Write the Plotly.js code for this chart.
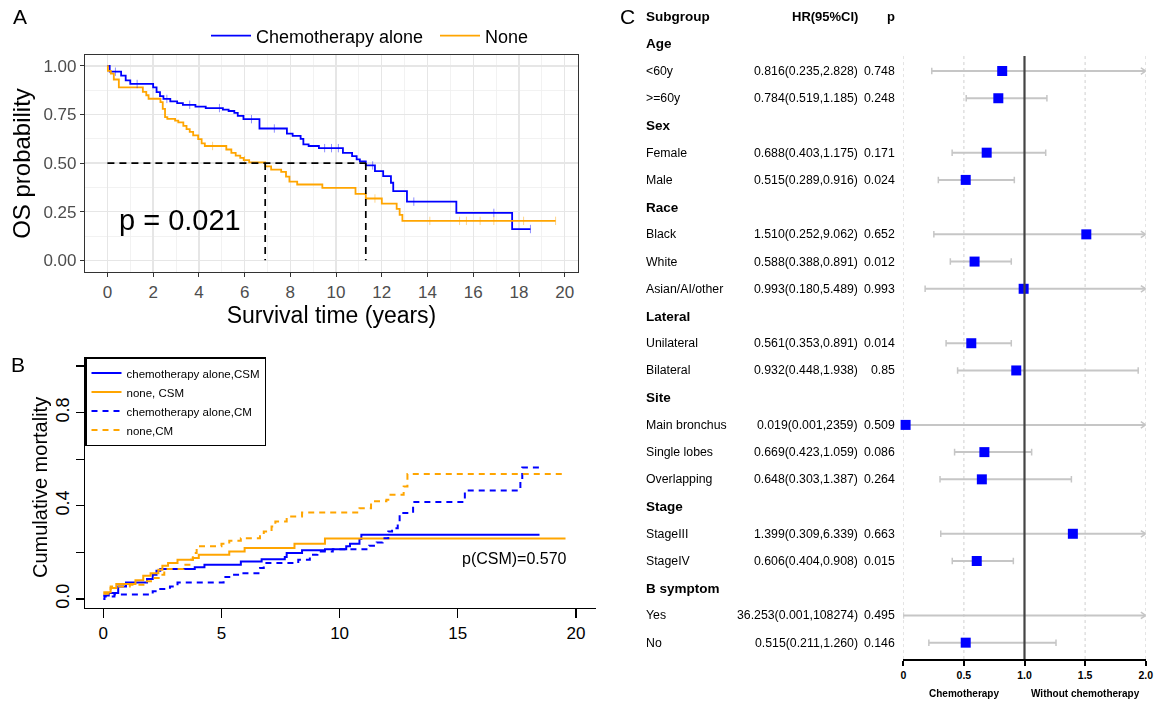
<!DOCTYPE html>
<html><head><meta charset="utf-8">
<script src="https://cdn.plot.ly/plotly-3.0.1.min.js"></script>
<style>html,body{margin:0;padding:0;background:#fff;}#chart{width:1158px;height:702px;}</style>
</head><body><div id="chart"></div>
<script>
// ---------- Panel A: Kaplan-Meier OS ----------
const chemoTime = [0, 0.1, 0.6, 0.8, 1.0, 2.0, 2.15, 2.3, 2.45, 2.75, 3.05, 3.3, 3.85, 4.3, 5.05, 5.3, 5.55, 5.7, 5.95, 6.65, 7.85, 8.1, 8.45, 8.57, 8.8, 9.25, 10.3, 10.7, 10.9, 11.04, 11.3, 11.7, 12.06, 12.4, 12.5, 13.1, 15.26, 17.7, 18.5];
const chemoSurv = [1.0, 0.97, 0.95, 0.925, 0.907, 0.89, 0.865, 0.845, 0.83, 0.818, 0.808, 0.8, 0.79, 0.783, 0.775, 0.768, 0.758, 0.743, 0.726, 0.678, 0.652, 0.64, 0.625, 0.596, 0.588, 0.577, 0.553, 0.536, 0.519, 0.509, 0.488, 0.459, 0.433, 0.399, 0.356, 0.302, 0.244, 0.161, 0.161];
const noneTime = [0, 0.02, 0.15, 0.28, 0.5, 1.55, 1.7, 1.8, 2.32, 2.42, 2.52, 2.62, 2.96, 3.1, 3.32, 3.46, 3.6, 3.75, 3.97, 4.12, 4.26, 5.2, 5.42, 5.61, 5.81, 5.96, 6.2, 6.9, 7.16, 7.6, 7.81, 7.96, 8.3, 9.4, 10.85, 11.3, 12.0, 12.65, 12.78, 12.9, 19.6];
const noneSurv = [1.0, 0.974, 0.96, 0.93, 0.89, 0.866, 0.849, 0.831, 0.814, 0.779, 0.736, 0.727, 0.718, 0.71, 0.692, 0.675, 0.661, 0.643, 0.623, 0.602, 0.588, 0.57, 0.553, 0.539, 0.527, 0.515, 0.504, 0.483, 0.466, 0.455, 0.43, 0.405, 0.39, 0.373, 0.342, 0.318, 0.292, 0.265, 0.234, 0.203, 0.203];
const chemoCensor = [0.35, 1.3, 2.6, 3.6, 4.9, 6.3, 7.3, 9.5, 9.8, 10.1, 11.6, 13.4, 16.9, 18.5];
const noneCensor = [4.6, 6.0, 11.7, 14.1, 15.4, 15.7, 16.3, 16.9, 18.2, 19.6];
const medianTimes = [6.9, 11.3];
const groupNames = ['Chemotherapy alone', 'None'];

// ---------- Panel B: cumulative mortality ----------
const chemoCSM_t = [0, 0.23, 0.63, 0.96, 1.85, 2.09, 2.25, 2.41, 3.87, 4.28, 5.82, 6.7, 7.68, 7.76, 8.41, 9.38, 10.28, 10.44, 10.84, 10.92, 18.46];
const chemoCSM_v = [0.015, 0.026, 0.054, 0.071, 0.086, 0.104, 0.121, 0.129, 0.136, 0.147, 0.161, 0.171, 0.18, 0.197, 0.209, 0.214, 0.226, 0.237, 0.257, 0.276, 0.276];
const noneCSM_t = [0, 0.31, 0.55, 1.36, 1.69, 2.0, 2.33, 2.5, 2.74, 3.14, 3.79, 4.04, 5.33, 5.98, 8.09, 9.38, 19.56];
const noneCSM_v = [0.029, 0.047, 0.064, 0.08, 0.1, 0.111, 0.126, 0.143, 0.154, 0.169, 0.176, 0.19, 0.204, 0.219, 0.237, 0.26, 0.26];
const chemoCM_t = [0, 0.05, 0.47, 2.09, 2.41, 2.82, 3.14, 5.09, 5.33, 5.82, 6.63, 6.79, 8.25, 8.74, 9.06, 9.71, 11.25, 11.57, 11.82, 12.06, 12.22, 12.46, 12.54, 13.11, 15.3, 17.65, 17.73, 18.46];
const chemoCM_v = [0.0, 0.011, 0.019, 0.033, 0.043, 0.054, 0.071, 0.094, 0.104, 0.111, 0.133, 0.154, 0.169, 0.19, 0.204, 0.214, 0.229, 0.243, 0.261, 0.29, 0.304, 0.333, 0.369, 0.416, 0.466, 0.511, 0.564, 0.564];
const noneCM_t = [0, 0.31, 1.12, 1.77, 2.1, 2.41, 2.58, 3.39, 3.71, 3.79, 3.95, 5.0, 5.33, 5.82, 6.63, 6.79, 7.12, 7.28, 7.76, 8.41, 10.84, 11.33, 11.98, 12.06, 12.71, 12.87, 19.56];
const noneCM_v = [0.023, 0.054, 0.061, 0.076, 0.09, 0.104, 0.129, 0.147, 0.169, 0.197, 0.226, 0.237, 0.25, 0.261, 0.269, 0.29, 0.311, 0.333, 0.354, 0.371, 0.39, 0.419, 0.426, 0.447, 0.483, 0.536, 0.536];
const seriesB = ['chemotherapy alone,CSM', 'none, CSM', 'chemotherapy alone,CM', 'none,CM'];

// ---------- Panel C: forest plot ----------
const rowLabels = ['Age','<60y','>=60y','Sex','Female','Male','Race','Black','White','Asian/AI/other','Lateral','Unilateral','Bilateral','Site','Main bronchus','Single lobes','Overlapping','Stage','StageIII','StageIV','B symptom','Yes','No'];
const hr  = [null,0.816,0.784,null,0.688,0.515,null,1.510,0.588,0.993,null,0.561,0.932,null,0.019,0.669,0.648,null,1.399,0.606,null,36.253,0.515];
const ciLo = [null,0.235,0.519,null,0.403,0.289,null,0.252,0.388,0.180,null,0.353,0.448,null,0.001,0.423,0.303,null,0.309,0.404,null,0.001,0.211];
const ciHi = [null,2.828,1.185,null,1.175,0.916,null,9.062,0.891,5.489,null,0.891,1.938,null,2359,1.059,1.387,null,6.339,0.908,null,108274,1.260];
const hrText = ['','0.816(0.235,2.828)','0.784(0.519,1.185)','','0.688(0.403,1.175)','0.515(0.289,0.916)','','1.510(0.252,9.062)','0.588(0.388,0.891)','0.993(0.180,5.489)','','0.561(0.353,0.891)','0.932(0.448,1.938)','','0.019(0.001,2359)','0.669(0.423,1.059)','0.648(0.303,1.387)','','1.399(0.309,6.339)','0.606(0.404,0.908)','','36.253(0.001,108274)','0.515(0.211,1.260)'];
const pText = ['','0.748','0.248','','0.171','0.024','','0.652','0.012','0.993','','0.014','0.85','','0.509','0.086','0.264','','0.663','0.015','','0.495','0.146'];
const forestTicks = [0, 0.5, 1.0, 1.5, 2.0];
const forestTickText = ['0', '0.5', '1.0', '1.5', '2.0'];
const headers = ['Subgroup', 'HR(95%CI)', 'p'];
const favourLabels = ['Chemotherapy', 'Without chemotherapy'];

// ---------- helpers ----------
const W = 1158, H = 702;
const px = v => v / W;
const py = v => 1 - v / H;
const BLUE = '#0000FF', ORANGE = '#FFA500';
const SANS = 'Liberation Sans, Arial, sans-serif';
const NARROW = 'Liberation Sans Narrow, Arial Narrow, Liberation Sans, sans-serif';
function stepAt(ts, vs, t) { let v = vs[0]; for (let i = 0; i < ts.length; i++) { if (ts[i] <= t) v = vs[i]; } return v; }

const traces = [];
// Panel A
traces.push({x: chemoTime, y: chemoSurv, type: 'scatter', mode: 'lines', line: {color: BLUE, width: 1.8, shape: 'hv'}, name: groupNames[0], xaxis: 'x', yaxis: 'y', legend: 'legend'});
traces.push({x: noneTime, y: noneSurv, type: 'scatter', mode: 'lines', line: {color: ORANGE, width: 1.8, shape: 'hv'}, name: groupNames[1], xaxis: 'x', yaxis: 'y', legend: 'legend'});
traces.push({x: chemoCensor, y: chemoCensor.map(t => stepAt(chemoTime, chemoSurv, t)), type: 'scatter', mode: 'markers', marker: {symbol: 'line-ns', size: 6, line: {color: BLUE, width: 1}}, opacity: 0.45, showlegend: false, xaxis: 'x', yaxis: 'y'});
traces.push({x: noneCensor, y: noneCensor.map(t => stepAt(noneTime, noneSurv, t)), type: 'scatter', mode: 'markers', marker: {symbol: 'line-ns', size: 6, line: {color: ORANGE, width: 1}}, opacity: 0.45, showlegend: false, xaxis: 'x', yaxis: 'y'});
// median lines
const mx = [0, Math.max(...medianTimes), null], my = [0.5, 0.5, null];
medianTimes.forEach(m => { mx.push(m, m, null); my.push(0.5, 0, null); });
traces.push({x: mx, y: my, type: 'scatter', mode: 'lines', line: {color: '#000', width: 1.7, dash: '7px,5px'}, showlegend: false, xaxis: 'x', yaxis: 'y'});

// Panel B
const bSets = [[chemoCSM_t, chemoCSM_v, BLUE, 'solid'], [noneCSM_t, noneCSM_v, ORANGE, 'solid'], [chemoCM_t, chemoCM_v, BLUE, '6px,5px'], [noneCM_t, noneCM_v, ORANGE, '6px,5px']];
bSets.forEach((s, i) => traces.push({x: s[0], y: s[1], type: 'scatter', mode: 'lines', line: {color: s[2], width: 2, shape: 'hv', dash: s[3]}, name: seriesB[i], xaxis: 'x2', yaxis: 'y2', legend: 'legend2'}));

// Panel C
const XMAX = forestTicks[forestTicks.length - 1];
const wx = [], wy = [], cx = [], cy = [], ax = [], ay = [], sx = [], sy = [];
const capH = 0.12, arW = 0.04, arH = 0.12;
rowLabels.forEach((lab, i) => {
  if (hr[i] === null) return;
  const hiC = Math.min(ciHi[i], XMAX);
  wx.push(ciLo[i], hiC, null); wy.push(i, i, null);
  cx.push(ciLo[i], ciLo[i], null); cy.push(i - capH, i + capH, null);
  if (ciHi[i] <= XMAX) { cx.push(ciHi[i], ciHi[i], null); cy.push(i - capH, i + capH, null); }
  else { ax.push(XMAX - arW, XMAX, XMAX - arW, null); ay.push(i - arH, i, i + arH, null); }
  if (hr[i] <= XMAX) { sx.push(hr[i]); sy.push(i); }
});
const grey = '#c6c6c6';
traces.push({x: wx, y: wy, type: 'scatter', mode: 'lines', line: {color: grey, width: 2}, showlegend: false, xaxis: 'x3', yaxis: 'y3', cliponaxis: false});
traces.push({x: cx, y: cy, type: 'scatter', mode: 'lines', line: {color: grey, width: 1.5}, showlegend: false, xaxis: 'x3', yaxis: 'y3', cliponaxis: false});
traces.push({x: ax, y: ay, type: 'scatter', mode: 'lines', line: {color: grey, width: 1.5}, showlegend: false, xaxis: 'x3', yaxis: 'y3', cliponaxis: false});
traces.push({x: sx, y: sy, type: 'scatter', mode: 'markers', marker: {symbol: 'square', size: 10, color: BLUE}, showlegend: false, xaxis: 'x3', yaxis: 'y3', cliponaxis: false});

// shapes: forest reference lines
const shapes = [];
const yTop = 0.45, yBot = 22.6;
forestTicks.forEach(v => {
  if (v === 1) return;
  shapes.push({type: 'line', xref: 'x3', yref: 'y3', x0: v, x1: v, y0: yTop, y1: yBot, line: {color: '#cfcfcf', width: 1, dash: 'dot'}, layer: 'below'});
});
shapes.push({type: 'line', xref: 'x3', yref: 'y3', x0: 1, x1: 1, y0: yTop, y1: yBot, line: {color: '#444', width: 2.2}, layer: 'above'});

// annotations
const ann = [];
ann.push({text: 'A', xref: 'paper', yref: 'paper', x: px(11), y: py(17), xanchor: 'left', yanchor: 'middle', showarrow: false, font: {size: 21, color: '#000'}});
ann.push({text: 'B', xref: 'paper', yref: 'paper', x: px(9), y: py(364), xanchor: 'left', yanchor: 'middle', showarrow: false, font: {size: 21, color: '#000'}});
ann.push({text: 'C', xref: 'paper', yref: 'paper', x: px(618), y: py(17), xanchor: 'left', yanchor: 'middle', showarrow: false, font: {size: 21, color: '#000'}});
ann.push({text: 'p = 0.021', xref: 'x', yref: 'y', x: 0.4, y: 0.205, xanchor: 'left', yanchor: 'middle', showarrow: false, font: {size: 29, color: '#000'}});
ann.push({text: 'p(CSM)=0.570', xref: 'x2', yref: 'y2', x: 17.4, y: 0.176, xanchor: 'center', yanchor: 'middle', showarrow: false, font: {family: NARROW, size: 16, color: '#000'}});
ann.push({text: 'Cumulative mortality', xref: 'paper', yref: 'paper', x: px(40), y: py(488), xanchor: 'center', yanchor: 'middle', textangle: -90, showarrow: false, font: {size: 20, color: '#000'}});
// forest text columns
const colSub = px(644), colHR = px(860), colP = px(897);
ann.push({text: '<b>' + headers[0] + '</b>', xref: 'paper', yref: 'y3', x: colSub, y: -1, xanchor: 'left', yanchor: 'middle', showarrow: false, font: {size: 13.5, color: '#000'}});
ann.push({text: '<b>' + headers[1] + '</b>', xref: 'paper', yref: 'y3', x: colHR, y: -1, xanchor: 'right', yanchor: 'middle', showarrow: false, font: {size: 13, color: '#000'}});
ann.push({text: '<b>' + headers[2] + '</b>', xref: 'paper', yref: 'y3', x: colP, y: -1, xanchor: 'right', yanchor: 'middle', showarrow: false, font: {size: 13, color: '#000'}});
rowLabels.forEach((lab, i) => {
  const isHead = hr[i] === null;
  ann.push({text: isHead ? '<b>' + lab + '</b>' : lab.replace('<', '&lt;').replace('>', '&gt;'), xref: 'paper', yref: 'y3', x: colSub, y: i, xanchor: 'left', yanchor: 'middle', showarrow: false, font: {size: isHead ? 13.5 : 12.3, color: '#000'}});
  if (!isHead) {
    ann.push({text: hrText[i], xref: 'paper', yref: 'y3', x: colHR, y: i, xanchor: 'right', yanchor: 'middle', showarrow: false, font: {size: 12.3, color: '#000'}});
    ann.push({text: pText[i], xref: 'paper', yref: 'y3', x: colP, y: i, xanchor: 'right', yanchor: 'middle', showarrow: false, font: {size: 12.3, color: '#000'}});
  }
});
ann.push({text: '<b>' + favourLabels[0] + '</b>', xref: 'x3', yref: 'paper', x: 0.5, y: py(693), xanchor: 'center', yanchor: 'middle', showarrow: false, font: {size: 10, color: '#000'}});
ann.push({text: '<b>' + favourLabels[1] + '</b>', xref: 'x3', yref: 'paper', x: 1.5, y: py(693), xanchor: 'center', yanchor: 'middle', showarrow: false, font: {size: 10, color: '#000'}});

const layout = {
  width: W, height: H, margin: {l: 0, r: 0, t: 0, b: 0},
  paper_bgcolor: '#fff', plot_bgcolor: '#fff',
  font: {family: SANS, color: '#000'},
  showlegend: true,
  xaxis: {domain: [px(85), px(578)], range: [-0.98, 20.58], anchor: 'y', tick0: 0, dtick: 2,
    showgrid: true, gridcolor: '#e6e6e6', gridwidth: 1.3,
    minor: {tick0: 0, dtick: 1, showgrid: true, gridcolor: '#efefef', gridwidth: 0.8, ticks: ''},
    showline: true, mirror: true, linecolor: '#333', linewidth: 1.1, ticks: 'outside', ticklen: 4, tickcolor: '#333',
    tickfont: {size: 17, color: '#4d4d4d'}, zeroline: false,
    title: {text: 'Survival time (years)', font: {size: 23, color: '#000'}, standoff: 6}},
  yaxis: {domain: [py(272), py(55)], range: [-0.06, 1.056], anchor: 'x', tickvals: [0, 0.25, 0.5, 0.75, 1], tickformat: '.2f',
    showgrid: true, gridcolor: '#e6e6e6', gridwidth: 1.3,
    minor: {tick0: 0, dtick: 0.125, showgrid: true, gridcolor: '#efefef', gridwidth: 0.8, ticks: ''},
    showline: true, mirror: true, linecolor: '#333', linewidth: 1.1, ticks: 'outside', ticklen: 4, tickcolor: '#333',
    tickfont: {size: 17, color: '#4d4d4d'}, zeroline: false,
    title: {text: 'OS probability', font: {size: 24, color: '#000'}, standoff: 6}},
  xaxis2: {domain: [px(85), px(596)], range: [-0.775, 20.85], anchor: 'y2', tickvals: [0, 5, 10, 15, 20],
    showgrid: false, zeroline: false, showline: true, linecolor: '#000', linewidth: 1.3,
    ticks: 'outside', ticklen: 9, tickwidth: 1.3, tickcolor: '#000',
    tickfont: {family: NARROW, size: 17, color: '#000'}},
  yaxis2: {domain: [py(608), py(357)], range: [-0.0386, 1.0386], anchor: 'x2',
    tickvals: [0, 0.2, 0.4, 0.6, 0.8, 1.0], ticktext: ['0.0', '', '0.4', '', '0.8', ''], tickangle: -90,
    showgrid: false, zeroline: false, showline: true, linecolor: '#000', linewidth: 1.3,
    ticks: 'outside', ticklen: 8, tickwidth: 1.3, tickcolor: '#000',
    tickfont: {size: 18, color: '#000'}},
  xaxis3: {domain: [px(903.3), px(1145.7)], range: [0, 2], anchor: 'y3', tickvals: forestTicks, ticktext: forestTickText,
    showgrid: false, zeroline: false, showline: true, linecolor: '#000', linewidth: 2,
    ticks: 'outside', ticklen: 5, tickwidth: 2, tickcolor: '#000',
    tickfont: {size: 10.5, color: '#000', weight: 'bold'}},
  yaxis3: {domain: [py(659), 1], range: [22.6, -1.609], anchor: 'x3', visible: false, showgrid: false, zeroline: false},
  legend: {orientation: 'h', x: px(206), y: py(36), xanchor: 'left', yanchor: 'middle', font: {size: 18, color: '#000'}, bgcolor: 'rgba(0,0,0,0)',
    itemwidth: 40, entrywidth: 174, entrywidthmode: 'pixels'},
  legend2: {x: px(85), y: py(357), xanchor: 'left', yanchor: 'top', bordercolor: '#000', borderwidth: 1.5, bgcolor: '#fff',
    font: {family: NARROW, size: 11.5, color: '#000'}, tracegroupgap: 0},
  shapes: shapes,
  annotations: ann
};
Plotly.newPlot('chart', traces, layout, {displayModeBar: false, staticPlot: true});
</script></body></html>
